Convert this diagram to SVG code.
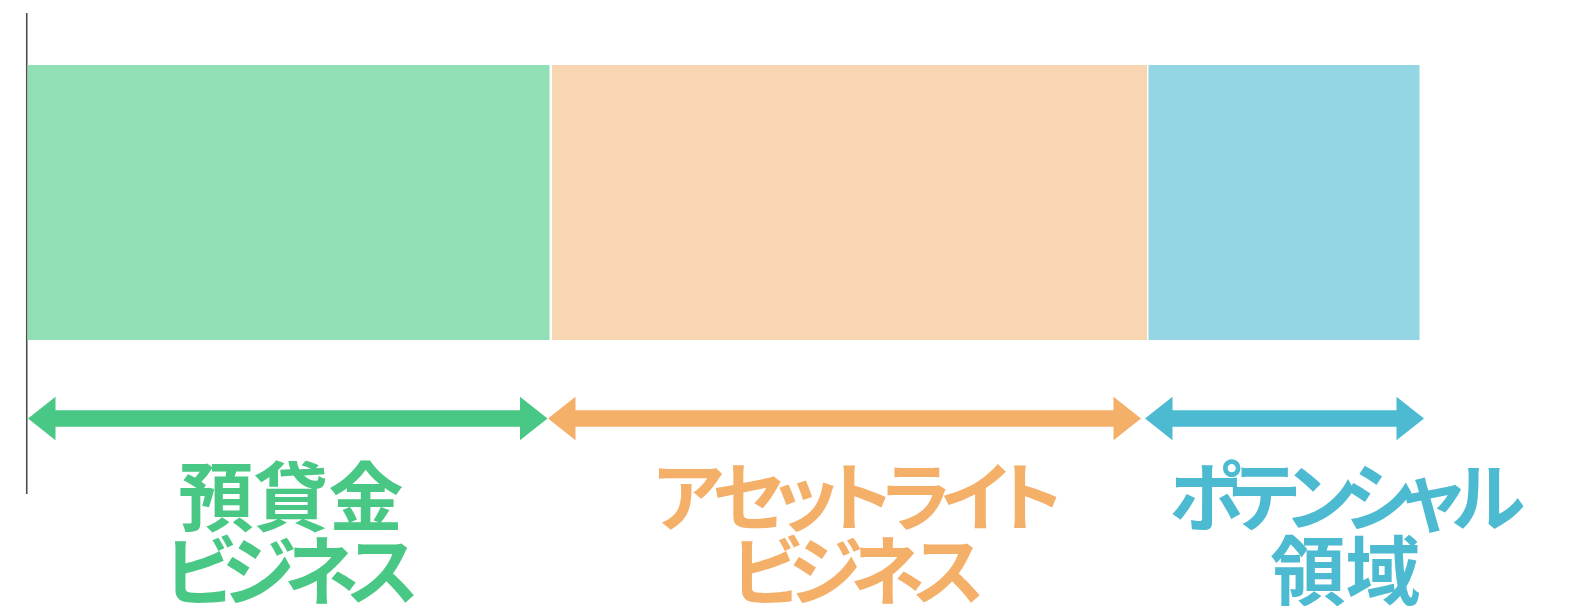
<svg xmlns="http://www.w3.org/2000/svg" width="1573" height="606" viewBox="0 0 1573 606">
<style>
.lbl{font-family:"Noto Sans CJK JP","Noto Sans CJK SC",sans-serif;font-weight:700;font-size:75px;text-anchor:middle;font-feature-settings:"palt" 1;}
.g{fill:#48C884}.o{fill:#F4AF68}.b{fill:#4CBAD1}
.gr{fill:#91DFB5}.or{fill:#F8D6B2}.br{fill:#94D6E3}
</style>
<rect width="1573" height="606" fill="#ffffff"/>
<line id="axis" x1="26.75" y1="13" x2="26.75" y2="494" stroke="#4d4d4d" stroke-width="1.6"/>
<g id="deposit-loan">
  <rect class="gr" x="27.5" y="65" width="522" height="275"/>
  <text class="lbl g" x="291" y="525">預貸金</text>
  <text class="lbl g" x="291.5" y="599" textLength="254" lengthAdjust="spacing">ビジネス</text>
</g>
<g id="asset-light">
  <rect class="or" x="552" y="65" width="595" height="275"/>
  <text class="lbl o" x="857.6" y="525" textLength="409" lengthAdjust="spacing">アセットライト</text>
  <text class="lbl o" x="857.7" y="599" textLength="253" lengthAdjust="spacing">ビジネス</text>
</g>
<g id="potential">
  <rect class="br" x="1148.5" y="65" width="271" height="275"/>
  <text class="lbl b" x="1347" y="525" textLength="356" lengthAdjust="spacing">ポテンシャル</text>
  <text class="lbl b" x="1345.6" y="599">領域</text>
</g>
<g id="connectors">
  <path class="g" d="M28,418.5 L55.5,396.8 L55.5,410.3 L520,410.3 L520,396.8 L547.5,418.5 L520,440.2 L520,426.7 L55.5,426.7 L55.5,440.2 Z"/>
  <path class="o" d="M548,418.5 L575.5,396.8 L575.5,410.3 L1113.5,410.3 L1113.5,396.8 L1141,418.5 L1113.5,440.2 L1113.5,426.7 L575.5,426.7 L575.5,440.2 Z"/>
  <path class="b" d="M1145,418.5 L1172.5,396.8 L1172.5,410.3 L1396.5,410.3 L1396.5,396.8 L1424,418.5 L1396.5,440.2 L1396.5,426.7 L1172.5,426.7 L1172.5,440.2 Z"/>
</g>
</svg>
